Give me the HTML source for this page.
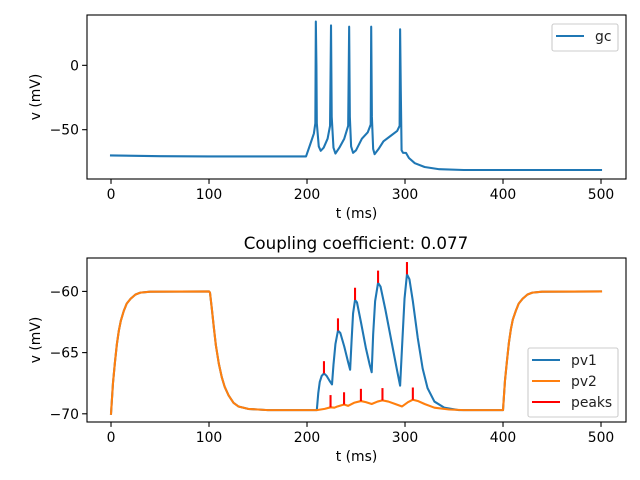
<!DOCTYPE html>
<html><head><meta charset="utf-8">
<style>
html,body{margin:0;padding:0;background:#fff;}
svg{display:block;font-family:"DejaVu Sans","Liberation Sans",sans-serif;}
</style></head>
<body>
<svg id="fig" width="640" height="480" viewBox="0 0 640 480"></svg>
<script>
// ---- data ----
const xTicks = [0,100,200,300,400,500];
const gcT = [0,50,100,199,203,207,208.5,209,209.6,210,212,214,217,221,223.5,224.5,225.2,227,229,233,238,242,243,243.7,245,247,250,256,262,265,265.5,266.2,267.5,269,273,278,285,292,294.5,295,295.7,296.5,298,301,304,310,320,335,360,500];
const gcV = [-70,-70.6,-70.8,-70.8,-62,-53,-45,34,0,-45,-63,-66.4,-64,-57,-47,31,-40,-64,-68.5,-64,-57,-47,30,-40,-63,-68,-66,-57,-52,-46,30,-40,-65,-69,-65,-59,-55,-51,-47,28,-20,-66,-68,-68,-72,-76,-79,-80.7,-81.3,-81.3];
const topYTicks = [0,-50];
const botYTicks = [-60,-65,-70];
const pv1T = [0,2,4,6,8,10,13,16,20,25,30,40,100,101,103,105,107,110,113,116,120,125,130,140,160,210,211.5,213,215,217.3,220,223,225.5,227,229,231.6,234,238,242,244,245.5,247,249,251,255,260,264,266,267.5,269.5,272.5,275,280,286,292,295,297,299.5,302,304.5,308,313,318,323,330,340,355,400,402,404,406,408,410,413,416,420,425,430,440,500];
const pv1V = [-70,-67.5,-65.8,-64.3,-63.2,-62.4,-61.6,-61,-60.6,-60.25,-60.1,-60.02,-60,-60.1,-61.5,-63,-64.4,-65.9,-67,-67.8,-68.5,-69.1,-69.4,-69.6,-69.7,-69.7,-68.3,-67.4,-66.9,-66.7,-66.9,-67.3,-67.6,-66,-64.3,-63.2,-63.4,-64.5,-65.8,-66.4,-64,-61.8,-60.7,-60.9,-62.5,-64.6,-66,-66.6,-63.5,-60.8,-59.3,-59.6,-61.5,-64,-66.5,-67.7,-64.5,-60.6,-58.6,-59,-60.8,-63.8,-66.3,-67.9,-69,-69.5,-69.7,-69.7,-67.3,-65.7,-64.2,-63.1,-62.3,-61.6,-61,-60.6,-60.25,-60.1,-60.02,-60];
const pv2T = [0,2,4,6,8,10,13,16,20,25,30,40,100,101,103,105,107,110,113,116,120,125,130,140,160,210,218,224,228,231,237.8,242,248,255,260,266,272,277,283,290,297,303,308,313,320,330,345,360,400,402,404,406,408,410,413,416,420,425,430,440,500];
const pv2V = [-70,-67.5,-65.8,-64.3,-63.2,-62.4,-61.6,-61,-60.6,-60.25,-60.1,-60.02,-60,-60.1,-61.5,-63,-64.4,-65.9,-67,-67.8,-68.5,-69.1,-69.4,-69.6,-69.7,-69.7,-69.6,-69.47,-69.5,-69.4,-69.24,-69.35,-69.1,-68.96,-69.05,-69.2,-69.0,-68.9,-69.0,-69.2,-69.4,-69.05,-68.85,-68.95,-69.2,-69.5,-69.65,-69.7,-69.7,-67.3,-65.7,-64.2,-63.1,-62.3,-61.6,-61,-60.6,-60.25,-60.1,-60.02,-60];
const pk1T = [217.3,231.6,249,272.5,302];
const pk1V = [-66.7,-63.2,-60.7,-59.3,-58.6];
const pk2T = [224,237.8,255,277,308];
const pk2V = [-69.47,-69.24,-68.96,-68.9,-68.85];

const NS="http://www.w3.org/2000/svg";
const fig=document.getElementById('fig');
function mk(tag,attrs,parent){const e=document.createElementNS(NS,tag);for(const k in attrs)e.setAttribute(k,attrs[k]);(parent||fig).appendChild(e);return e;}
const FS=13.9;
const LW=2.08;

function axes(box, xr, yr, yTicks, name){
  const g=mk('g',{});
  
  
  const sx=t=>box.x0+(t-xr[0])/(xr[1]-xr[0])*(box.x1-box.x0);
  const sy=v=>box.y1-(v-yr[0])/(yr[1]-yr[0])*(box.y1-box.y0);
  xTicks.forEach(t=>{
    const l=mk('line',{x1:sx(t),x2:sx(t),y1:box.y1,y2:box.y1+4.9,stroke:'#000','stroke-width':1.1},g);
    
    
    const tx=mk('text',{x:sx(t),y:box.y1+20,'font-size':FS,'text-anchor':'middle',fill:'#000'},g);
    
    
    tx.textContent=t;
  });
  yTicks.forEach(v=>{
    const l=mk('line',{x1:box.x0-4.9,x2:box.x0,y1:sy(v),y2:sy(v),stroke:'#000','stroke-width':1.1},g);
    
    
    const tx=mk('text',{x:box.x0-8,y:sy(v)+5,'font-size':FS,'text-anchor':'end',fill:'#000'},g);
    
    
    tx.textContent=(v<0?'\u2212'+(-v):v);
  });
  const xl=mk('text',{x:(box.x0+box.x1)/2,y:box.y1+39,'font-size':FS,'text-anchor':'middle'},g);
  
  
  xl.textContent='t (ms)';
  const cy=(box.y0+box.y1)/2;
  const yl=mk('text',{x:0,y:0,'font-size':FS,'text-anchor':'middle',transform:`translate(${box.x0-47},${cy}) rotate(-90)`},g);
  
  
  yl.textContent='v (mV)';
  return {g,sx,sy};
}
function line(ax,T,V,color,name){
  const d=T.map((t,i)=>(i?'L':'M')+ax.sx(t).toFixed(2)+','+ax.sy(V[i]).toFixed(2)).join('');
  const p=mk('path',{d,fill:'none',stroke:color,'stroke-width':LW,'stroke-linejoin':'round','stroke-linecap':'square'},ax.g);
  
  
}
function frame(box,g){
  const r=mk('rect',{x:box.x0,y:box.y0,width:box.x1-box.x0,height:box.y1-box.y0,fill:'none',stroke:'#000','stroke-width':1.1},g);
  
  
}
function legend(x,y,w,items,name){
  const g=mk('g',{});
  
  
  const h=6+items.length*21;
  mk('rect',{x,y,width:w,height:h,rx:2,fill:'#fff','fill-opacity':0.8,stroke:'#ccc','stroke-width':1.1},g);
  items.forEach((it,i)=>{
    const yy=y+12+i*21;
    const l=mk('line',{x1:x+4,x2:x+32,y1:yy,y2:yy,stroke:it[1],'stroke-width':LW},g);
    
    
    const t=mk('text',{x:x+43,y:yy+5,'font-size':FS,fill:'#222'},g);
    
    
    t.textContent=it[0];
  });
}

// top chart
const b1={x0:87,x1:626,y0:15,y1:179};
const a1=axes(b1,[-24.5,525.5],[-88.3,39.1],topYTicks,'top-chart');
line(a1,gcT,gcV,'#1f77b4','gc-line');
frame(b1,a1.g);
legend(552,24,66,[['gc','#1f77b4']],'top-legend');

// bottom chart
const b2={x0:87,x1:626,y0:258,y1:422};
const a2=axes(b2,[-24.5,525.5],[-70.67,-57.27],botYTicks,'bottom-chart');
line(a2,pv1T,pv1V,'#1f77b4','pv1-line');
line(a2,pv2T,pv2V,'#ff7f0e','pv2-line');
[[pk1T,pk1V],[pk2T,pk2V]].forEach(([T,V])=>{
  T.forEach((t,i)=>{
    const l=mk('line',{x1:a2.sx(t),x2:a2.sx(t),y1:a2.sy(V[i]),y2:a2.sy(V[i]+1),stroke:'#ff0000','stroke-width':LW},a2.g);
    
    
  });
});
frame(b2,a2.g);
const title=mk('text',{x:356,y:249,'font-size':16.7,'text-anchor':'middle'});


title.textContent='Coupling coefficient: 0.077';
legend(528,348,90,[['pv1','#1f77b4'],['pv2','#ff7f0e'],['peaks','#ff0000']],'bottom-legend');
</script>
</body></html>
